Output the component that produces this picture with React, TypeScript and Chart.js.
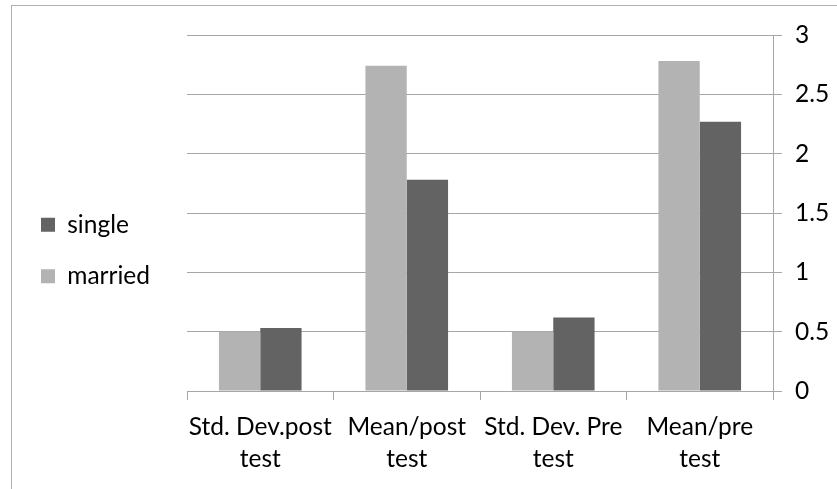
import React, { useEffect, useRef } from 'react';
import { Chart, registerables } from 'chart.js';

Chart.register(...registerables);

const categories: string[][] = [
  ['Std. Dev.post', 'test'],
  ['Mean/post', 'test'],
  ['Std. Dev. Pre', 'test'],
  ['Mean/pre', 'test'],
];
const marriedValues = [0.5, 2.74, 0.5, 2.78];
const singleValues = [0.53, 1.78, 0.62, 2.27];
const yTicks = [0, 0.5, 1, 1.5, 2, 2.5, 3];

const FONT = { family: 'Lato', size: 24.5, lineHeight: 1.3 };
const GRID = '#a6a6a6';

export default function App() {
  const ref = useRef<HTMLCanvasElement | null>(null);

  useEffect(() => {
    if (!ref.current) return;
    const chart = new Chart(ref.current, {
      type: 'bar',
      data: {
        labels: categories,
        datasets: [
          {
            label: 'married',
            data: marriedValues,
            backgroundColor: '#b3b3b3',
            borderWidth: 0,
            yAxisID: 'y',
          },
          {
            label: 'single',
            data: singleValues,
            backgroundColor: '#636363',
            borderWidth: 0,
            yAxisID: 'y',
          },
        ],
      },
      options: {
        animation: false,
        responsive: true,
        maintainAspectRatio: false,
        layout: { padding: { left: 14, right: 0, top: 22, bottom: 10 } },
        datasets: { bar: { barPercentage: 1, categoryPercentage: 0.564 } },
        plugins: {
          legend: {
            position: 'left',
            reverse: true,
            labels: {
              boxWidth: 14,
              boxHeight: 14,
              padding: 27,
              color: '#000',
              font: FONT,
            },
          },
          tooltip: { enabled: false },
        },
        scales: {
          x: {
            grid: {
              display: true,
              drawOnChartArea: false,
              offset: true,
              tickLength: 9,
              color: GRID,
            },
            border: { display: true, color: GRID },
            ticks: { color: '#000', font: FONT, padding: 11, maxRotation: 0, autoSkip: false },
            afterFit: (s: any) => {
              s.height = 88;
            },
          },
          spacer: {
            type: 'linear',
            position: 'left',
            display: true,
            grid: { display: false },
            border: { display: false },
            ticks: { display: false },
            afterFit: (s: any) => {
              const lw = s.chart.legend && s.chart.legend.width ? s.chart.legend.width : 148;
              s.width = Math.max(0, 187 - 14 - lw);
            },
          },
          spacerTop: {
            type: 'linear',
            position: 'top',
            display: true,
            grid: { display: false },
            border: { display: false },
            ticks: { display: false },
            afterFit: (s: any) => {
              s.height = 13;
            },
          },
          y: {
            position: 'right',
            min: 0,
            max: 3,
            afterBuildTicks: (s: any) => {
              s.ticks = yTicks.map((v) => ({ value: v }));
            },
            afterFit: (s: any) => {
              s.width = 64;
            },
            grid: { color: GRID, tickLength: 9 },
            border: { display: true, color: GRID },
            ticks: { color: '#000', font: FONT, padding: 13, callback: (v: any) => String(v) },
          },
        },
      } as any,
    });
    return () => chart.destroy();
  }, []);

  return (
    <div
      style={{
        position: 'absolute',
        left: 0,
        top: 0,
        width: 837,
        height: 489,
        overflow: 'hidden',
        background: '#fff',
      }}
    >
      <div
        style={{
          position: 'absolute',
          left: 11,
          top: 5,
          right: -10,
          bottom: -10,
          borderTop: '1px solid #b0b0b0',
          borderLeft: '1px solid #b0b0b0',
        }}
      />
      <div style={{ position: 'absolute', left: 0, top: 0, width: 837, height: 489 }}>
        <canvas ref={ref} />
      </div>
    </div>
  );
}
